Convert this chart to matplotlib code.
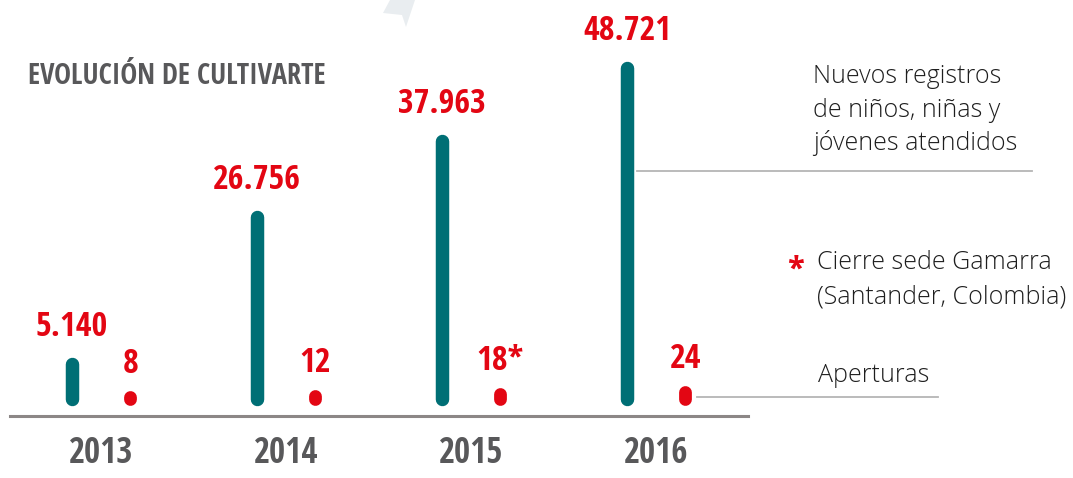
import matplotlib
matplotlib.use("Agg")
import matplotlib.pyplot as plt
from matplotlib.patches import Polygon
import numpy as np

# ---- data ----
years = ["2013", "2014", "2015", "2016"]
registros = [5140, 26756, 37963, 48721]
registros_labels = ["5.140", "26.756", "37.963", "48.721"]
aperturas = [8, 12, 18, 24]
aperturas_labels = ["8", "12", "18*", "24"]

title = "EVOLUCIÓN DE CULTIVARTE"
legend_registros = ["Nuevos registros", "de niños, niñas y", "jóvenes atendidos"]
legend_nota = ["Cierre sede Gamarra", "(Santander, Colombia)"]
legend_aperturas = "Aperturas"

# ---- style ----
TEAL = "#006F75"
RED = "#E30613"
GRAY_TXT = "#58585A"
LINE_GRAY = "#B5B5B5"
BASE_GRAY = "#8C8786"
BOLD_FONT = ["Open Sans Condensed", "DejaVu Sans"]
LIGHT_FONT = ["Open Sans", "DejaVu Sans"]
LIGHT_COLOR = "#1E1E1E"

W, H = 1073, 478
fig = plt.figure(figsize=(W / 100, H / 100), dpi=100)
fig.patch.set_facecolor("white")


def fx(px):
    return px / W


def fy(py):
    return 1 - py / H


# decorative faint shape at top
fig.patches.append(Polygon([(fx(390), fy(0)), (fx(383), fy(13)), (fx(402), fy(15)),
                            (fx(406), fy(27)), (fx(415), fy(0))],
                           closed=True, transform=fig.transFigure,
                           facecolor="#E9EDF0", edgecolor="none", zorder=0))

ax = fig.add_axes([0, 0, 1, 1])
ax.set_xlim(-72 / 185, (W - 72) / 185)
ax.set_ylim(-11618, 58676)
ax.axis("off")

ax2 = ax.twinx()
ax2.set_ylim(-261.7, 1331.7)
ax2.axis("off")

x = np.arange(len(years))
dot_off = 0.316

# bars (registros)
for xi, v, lab in zip(x, registros, registros_labels):
    ax.plot([xi, xi], [0, v], color=TEAL, lw=9.7, solid_capstyle="round", zorder=3)
    ax.annotate(lab, xy=(xi, v), xytext=(0, 28), textcoords="offset pixels",
                ha="center", va="baseline", color=RED, fontsize=24.5,
                fontweight="bold", family=BOLD_FONT)

# dots (aperturas)
for xi, v, lab in zip(x, aperturas, aperturas_labels):
    ax2.plot([xi + dot_off, xi + dot_off], [0, v], color=RED, lw=9.2,
             solid_capstyle="round", zorder=3)
    ax2.annotate(lab, xy=(xi + dot_off, v), xytext=(0, 24), textcoords="offset pixels",
                 ha="center", va="baseline", color=RED, fontsize=24.5,
                 fontweight="bold", family=BOLD_FONT)

# baseline
fig.add_artist(plt.Line2D([fx(10), fx(748)], [fy(416), fy(416)], color=BASE_GRAY,
                          lw=2.2, transform=fig.transFigure))

# year labels
xt = ax.get_xaxis_transform()
for xi, yr in zip(x, years):
    ax.text(xi + dot_off / 2, fy(463), yr, transform=xt, ha="center", va="baseline",
            color=GRAY_TXT, fontsize=25, fontweight="bold", family=BOLD_FONT)

# title
fig.text(fx(28), fy(84), title, ha="left", va="baseline", color=GRAY_TXT,
         fontsize=20.5, fontweight="bold", family=BOLD_FONT)

# right-side legend texts
for i, line in enumerate(legend_registros):
    fig.text(fx(813), fy(83 + 33.5 * i), line, ha="left", va="baseline",
             color=LIGHT_COLOR, fontsize=18, fontweight=300, family=LIGHT_FONT)
fig.add_artist(plt.Line2D([fx(637), fx(1032)], [fy(171), fy(171)], color=LINE_GRAY,
                          lw=1.3, transform=fig.transFigure))

fig.text(fx(795), fy(282), "*", ha="center", va="baseline", color=RED,
         fontsize=26, fontweight="bold", family=BOLD_FONT)
for i, line in enumerate(legend_nota):
    fig.text(fx(817), fy(269 + 34 * i), line, ha="left", va="baseline",
             color=LIGHT_COLOR, fontsize=18, fontweight=300, family=LIGHT_FONT)

fig.text(fx(818), fy(382), legend_aperturas, ha="left", va="baseline",
         color=LIGHT_COLOR, fontsize=18, fontweight=300, family=LIGHT_FONT)
fig.add_artist(plt.Line2D([fx(697), fx(938)], [fy(397), fy(397)], color=LINE_GRAY,
                          lw=1.3, transform=fig.transFigure))

fig.savefig("out.png", dpi=100, facecolor="white")
